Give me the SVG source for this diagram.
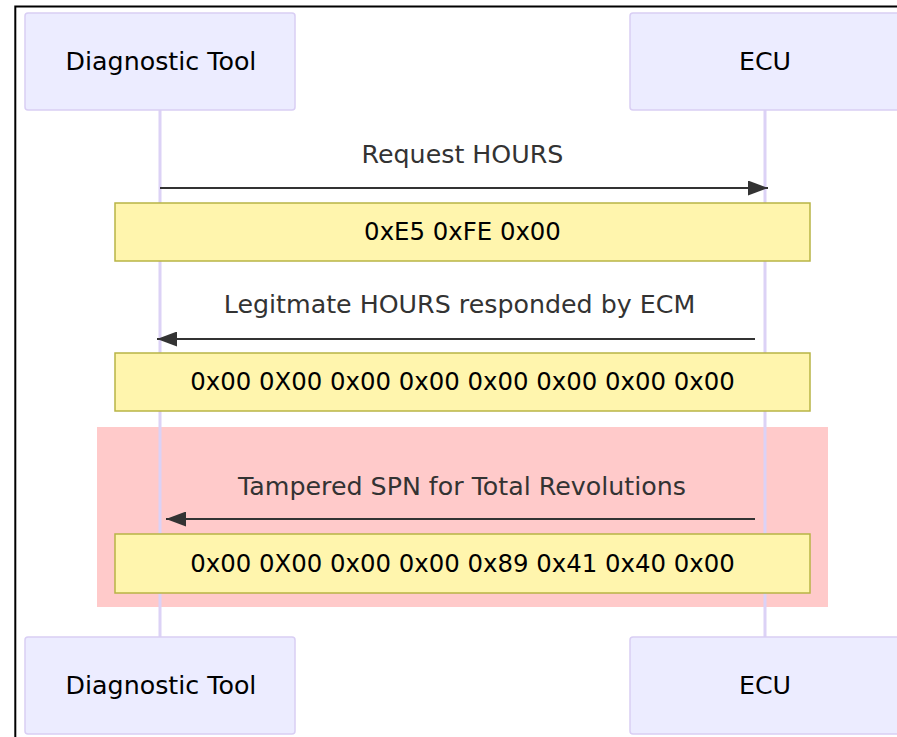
<svg xmlns="http://www.w3.org/2000/svg" width="897" height="737" viewBox="0 0 897 737">
  <style>
    .actor { fill: #ececff; stroke: #d9cef4; stroke-width: 1.5; }
    .actor-text { font-family: "DejaVu Sans", sans-serif; font-size: 25.3px; fill: #000; text-anchor: middle; }
    .lifeline { stroke: #dcd2f6; stroke-width: 3; }
    .note { fill: #fff5ad; stroke: #b8b445; stroke-width: 1.5; }
    .note-text { font-family: "DejaVu Sans", sans-serif; font-size: 24.4px; fill: #000; text-anchor: middle; }
    .msg { stroke: #333; stroke-width: 2; fill: none; marker-end: url(#arrowhead); }
    .msg-text { font-family: "DejaVu Sans", sans-serif; font-size: 25.3px; fill: #333; text-anchor: middle; }
    .frame { stroke: #000; stroke-width: 2; fill: none; }
  </style>
  <defs>
    <marker id="arrowhead" markerUnits="userSpaceOnUse" markerWidth="20" markerHeight="15" refX="20" refY="7.5" orient="auto">
      <path d="M0,0 L20,7.5 L0,15 z" fill="#333"/>
    </marker>
  </defs>

  <rect width="897" height="737" fill="#fff"/>

  <!-- highlighted region -->
  <rect id="highlight" x="97" y="427" width="731" height="180" fill="#ffcaca"/>

  <!-- lifelines -->
  <g id="lifelines">
    <line class="lifeline" x1="160" y1="110" x2="160" y2="637"/>
    <line class="lifeline" x1="765" y1="110" x2="765" y2="637"/>
  </g>

  <!-- participants -->
  <g id="tool-top">
    <rect class="actor" x="25" y="13" width="270" height="97" rx="3"/>
    <text class="actor-text" x="161" y="70">Diagnostic Tool</text>
  </g>
  <g id="ecu-top">
    <rect class="actor" x="630" y="13" width="270" height="97" rx="3"/>
    <text class="actor-text" x="765" y="70">ECU</text>
  </g>
  <g id="tool-bottom">
    <rect class="actor" x="25" y="637" width="270" height="97" rx="3"/>
    <text class="actor-text" x="161" y="694">Diagnostic Tool</text>
  </g>
  <g id="ecu-bottom">
    <rect class="actor" x="630" y="637" width="270" height="97" rx="3"/>
    <text class="actor-text" x="765" y="694">ECU</text>
  </g>

  <!-- notes -->
  <g id="note-request">
    <rect class="note" x="115" y="203" width="695" height="58"/>
    <text class="note-text" x="462.5" y="240">0xE5 0xFE 0x00</text>
  </g>
  <g id="note-legit">
    <rect class="note" x="115" y="353" width="695" height="58"/>
    <text class="note-text" x="462.5" y="390">0x00 0X00 0x00 0x00 0x00 0x00 0x00 0x00</text>
  </g>
  <g id="note-tampered">
    <rect class="note" x="115" y="534" width="695" height="59"/>
    <text class="note-text" x="462.5" y="571.5">0x00 0X00 0x00 0x00 0x89 0x41 0x40 0x00</text>
  </g>

  <!-- messages -->
  <g id="connectors">
    <line class="msg" x1="160" y1="188" x2="768" y2="188"/>
    <text class="msg-text" x="462.5" y="163">Request HOURS</text>
    <line class="msg" x1="755" y1="339" x2="157" y2="339"/>
    <text class="msg-text" x="459.5" y="313">Legitmate HOURS responded by ECM</text>
    <line class="msg" x1="755" y1="519" x2="166" y2="519"/>
    <text class="msg-text" x="462" y="494.5">Tampered SPN for Total Revolutions</text>
  </g>

  <!-- outer frame edges -->
  <polyline class="frame" points="15.3,737 15.3,6.5 897,6.5"/>
</svg>
